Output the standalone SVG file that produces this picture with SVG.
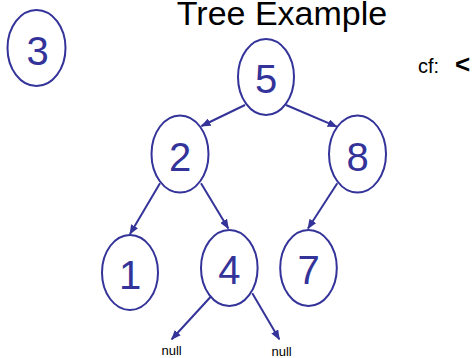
<svg xmlns="http://www.w3.org/2000/svg" width="476" height="358" viewBox="0 0 476 358">
<defs>
<marker id="ah" markerWidth="10" markerHeight="8" refX="9" refY="4" orient="auto" markerUnits="userSpaceOnUse">
<path d="M0,0 L10,4 L0,8 Z" fill="#333399"/>
</marker>
<style>
.n{fill:none;stroke:#333399;stroke-width:2}
.d{font-family:"Liberation Sans",Arial,sans-serif;font-size:40px;fill:#333399;text-anchor:middle}
.e{stroke:#333399;stroke-width:2;fill:none;marker-end:url(#ah)}
.t{font-family:"Liberation Sans",Arial,sans-serif;fill:#000}
</style>
</defs>
<rect width="476" height="358" fill="#fff"/>
<text class="t" x="282" y="25" font-size="34" text-anchor="middle">Tree Example</text>
<text class="t" x="418" y="73" font-size="20">cf: <tspan x="455" font-weight="bold" font-size="26">&lt;</tspan></text>
<g id="node3"><ellipse class="n" cx="36.5" cy="48" rx="29" ry="38"/><text class="d" x="37.5" y="65">3</text></g>
<g id="node5"><ellipse class="n" cx="266" cy="77" rx="28" ry="38"/><text class="d" x="266" y="93">5</text></g>
<g id="node2"><ellipse class="n" cx="180" cy="154" rx="28.5" ry="38.5"/><text class="d" x="180" y="171">2</text></g>
<g id="node8"><ellipse class="n" cx="357.5" cy="154" rx="28.5" ry="38.5"/><text class="d" x="357.5" y="171">8</text></g>
<g id="node1"><ellipse class="n" cx="130" cy="272.5" rx="28" ry="37.5"/><text class="d" x="130" y="289">1</text></g>
<g id="node4"><ellipse class="n" cx="229.3" cy="268" rx="28.3" ry="38"/><text class="d" x="229.3" y="284">4</text></g>
<g id="node7"><ellipse class="n" cx="308.5" cy="268" rx="28.3" ry="38"/><text class="d" x="308.5" y="284">7</text></g>
<g id="nullL"><text class="t" x="161.5" y="355" font-size="13">null</text></g>
<g id="nullR"><text class="t" x="271.5" y="356" font-size="13">null</text></g>
<g id="edges">
<line class="e" x1="245" y1="105" x2="201.5" y2="126"/>
<line class="e" x1="286" y1="105" x2="336.7" y2="126.7"/>
<line class="e" x1="160" y1="183.3" x2="130" y2="234"/>
<line class="e" x1="201" y1="183.3" x2="228.3" y2="228.5"/>
<line class="e" x1="337.3" y1="183.3" x2="308" y2="228.5"/>
<line class="e" x1="210.7" y1="296.7" x2="171.7" y2="339.3"/>
<line class="e" x1="252.3" y1="293.3" x2="279.3" y2="339.3"/>
</g>
</svg>
